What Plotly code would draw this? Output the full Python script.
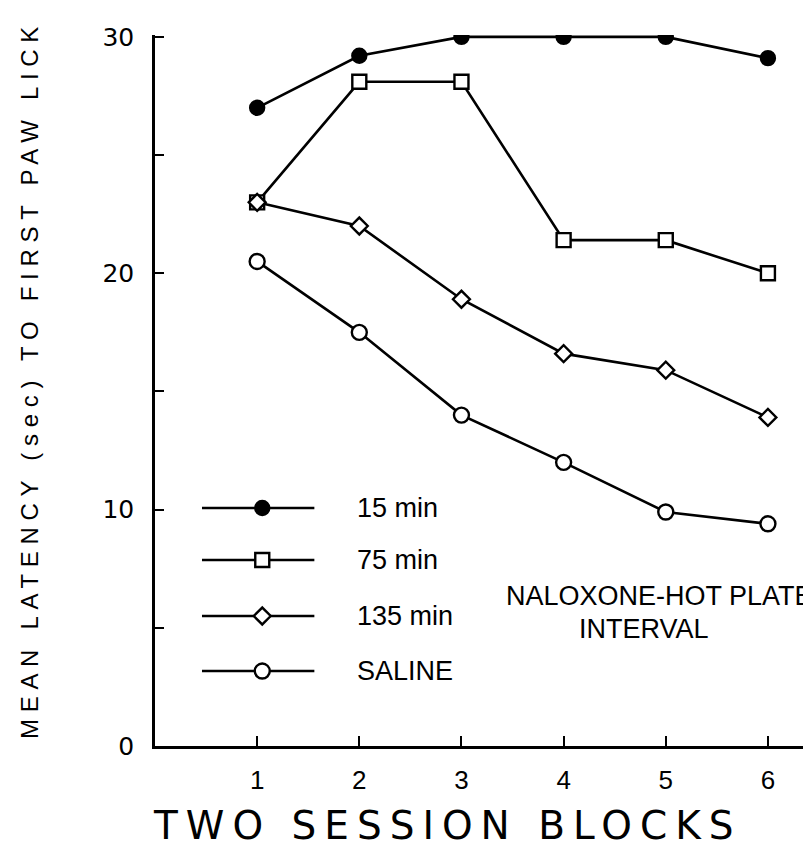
import plotly.graph_objects as go

blocks = [1, 2, 3, 4, 5, 6]
min15 = [27.0, 29.2, 30.0, 30.0, 30.0, 29.1]
min75 = [23.0, 28.1, 28.1, 21.4, 21.4, 20.0]
min135 = [23.0, 22.0, 18.9, 16.6, 15.9, 13.9]
saline = [20.5, 17.5, 14.0, 12.0, 9.9, 9.4]
series_names = ["15 min", "75 min", "135 min", "SALINE"]
y_tick_vals = [0, 10, 20, 30]
x_title = "TWO SESSION BLOCKS"
y_title = "MEAN LATENCY (sec) TO FIRST PAW LICK"
note_line1 = "NALOXONE-HOT PLATE"
note_line2 = "INTERVAL"

HELV = "Liberation Sans, Arial, Helvetica, sans-serif"
styles = [
    dict(symbol="circle", size=14, fill="black"),
    dict(symbol="square", size=14, fill="white"),
    dict(symbol="diamond", size=13, fill="white"),
    dict(symbol="circle", size=15, fill="white"),
]
all_series = [min15, min75, min135, saline]

fig = go.Figure()
for vals, st, name in zip(all_series, styles, series_names):
    fig.add_trace(go.Scatter(
        x=blocks, y=vals, mode="lines+markers", name=name,
        line=dict(color="black", width=2.6),
        marker=dict(symbol=st["symbol"], size=st["size"], color=st["fill"],
                    line=dict(color="black", width=2.4)),
        showlegend=False))

# hand-drawn legend inside the plot
legend_rows_y = [10.07, 7.87, 5.5, 3.17]
leg_x0, leg_x1, leg_mark, leg_text = 0.46, 1.56, 1.05, 1.96
for name, st, ly in zip(series_names, styles, legend_rows_y):
    fig.add_trace(go.Scatter(
        x=[leg_x0, leg_x1], y=[ly, ly], mode="lines",
        line=dict(color="black", width=2.6), showlegend=False, hoverinfo="skip"))
    fig.add_trace(go.Scatter(
        x=[leg_mark], y=[ly], mode="markers",
        marker=dict(symbol=st["symbol"], size=st["size"], color=st["fill"],
                    line=dict(color="black", width=2.4)),
        showlegend=False, hoverinfo="skip"))
    fig.add_annotation(x=leg_text, y=ly, xref="x", yref="y", text=name, showarrow=False,
                       xanchor="left", yanchor="middle",
                       font=dict(family=HELV, size=27, color="black"))

fig.add_annotation(x=4.94, y=6.35, xref="x", yref="y", text=note_line1, showarrow=False,
                   xanchor="center", yanchor="middle",
                   font=dict(family=HELV, size=27, color="black"))
fig.add_annotation(x=4.79, y=4.95, xref="x", yref="y", text=note_line2, showarrow=False,
                   xanchor="center", yanchor="middle",
                   font=dict(family=HELV, size=27, color="black"))

fig.add_annotation(x=(439 - 147) / 664, y=-(817 - 738) / 711, xref="paper", yref="paper",
                   text='<span style="letter-spacing:8px">' + x_title + '</span>',
                   showarrow=False, xanchor="center", yanchor="middle",
                   font=dict(family="DejaVu Sans", size=39, color="black"))
fig.add_annotation(x=-(147 - 22) / 664, y=(738 - 372) / 711, xref="paper", yref="paper",
                   text='<span style="letter-spacing:6.7px">' + y_title + '</span>',
                   showarrow=False, textangle=-90, xanchor="center", yanchor="middle",
                   font=dict(family=HELV, size=24, color="black"))

fig.update_layout(
    width=811, height=851,
    margin=dict(l=147, r=0, t=27, b=113),
    paper_bgcolor="white", plot_bgcolor="white",
    showlegend=False,
    xaxis=dict(range=[0, 6.5], tickvals=blocks, ticks="inside", ticklen=10, tickwidth=2.2,
               tickcolor="black", showline=True, linecolor="black", linewidth=2.6,
               showgrid=False, zeroline=False, ticklabelstandoff=9,
               tickfont=dict(family=HELV, size=26, color="black")),
    yaxis=dict(range=[0, 30.08], tickvals=y_tick_vals, ticks="inside", ticklen=9, tickwidth=2.2,
               tickcolor="black", showline=True, linecolor="black", linewidth=2.6,
               showgrid=False, zeroline=False, ticklabelstandoff=13,
               minor=dict(dtick=5, ticks="inside", ticklen=9, tickwidth=2.2, tickcolor="black", showgrid=False),
               tickfont=dict(family="DejaVu Sans", size=25, color="black")),
)

fig.write_html("out.html")
